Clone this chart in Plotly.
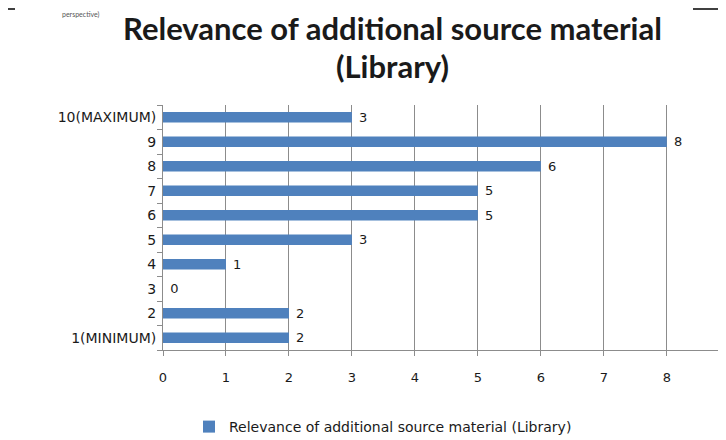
import plotly.graph_objects as go

categories = ["1(MINIMUM)", "2", "3", "4", "5", "6", "7", "8", "9", "10(MAXIMUM)"]
counts = [2, 2, 0, 1, 3, 5, 5, 6, 8, 3]
series_name = "Relevance of additional source material (Library)"
x_ticks = [0, 1, 2, 3, 4, 5, 6, 7, 8, 9]

blue = "#4F81BD"
grid = "#8C8C8C"
txt = "#1A1A1A"
title_font = "Lato"
font = "DejaVu Sans"

# the page body adds an 8px margin, so the figure is drawn 8px smaller
OFF = 8
FW, FH = 726 - OFF, 440 - OFF
L, T, W, H = 163 - OFF, 105 - OFF, 563, 245  # plot area in figure pixels


def px(x):
    return (x - OFF - L) / W


def py(y):
    return (T + H - (y - OFF)) / H


fig = go.Figure()
fig.add_trace(go.Bar(
    y=categories, x=counts, orientation="h", name=series_name,
    marker=dict(color=blue, line=dict(width=0)), width=0.42,
    text=counts, texttemplate=" %{x}", textposition="outside", cliponaxis=False,
    constraintext="none", textfont=dict(family=font, size=13, color=txt),
))

fig.update_layout(
    width=FW, height=FH,
    margin=dict(l=L, r=FW - L - W, t=T, b=FH - T - H, autoexpand=False),
    paper_bgcolor="white", plot_bgcolor="white",
    font=dict(family=font, size=12, color=txt),
    showlegend=True,
    legend=dict(orientation="h", x=px(383), xanchor="center", y=py(427), yanchor="middle",
                font=dict(family=font, size=14, color=txt), itemwidth=30),
)
fig.update_xaxes(range=[0, 8.94], tickvals=x_ticks, showgrid=True, gridcolor=grid, gridwidth=1,
                 showline=True, linecolor=grid, linewidth=1, ticks="outside", ticklen=5,
                 tickcolor=grid, ticklabelstandoff=10, zeroline=False, automargin=False,
                 tickfont=dict(family=font, size=13, color=txt))
fig.update_yaxes(type="category", categoryorder="array", categoryarray=categories,
                 showline=True, linecolor=grid, linewidth=1, ticks="outside", ticklen=5,
                 tickcolor=grid, tickson="boundaries", showgrid=False, ticklabelstandoff=3,
                 automargin=False, tickfont=dict(family=font, size=14, color=txt))

# title
fig.add_annotation(text="<b>Relevance of additional source material</b>", xref="paper", yref="paper",
                   x=px(392), y=py(28), xanchor="center", yanchor="middle", showarrow=False,
                   font=dict(family=title_font, size=31, color=txt))
fig.add_annotation(text="<b>(Library)</b>", xref="paper", yref="paper",
                   x=px(392), y=py(66), xanchor="center", yanchor="middle", showarrow=False,
                   font=dict(family=title_font, size=31, color=txt))

# stray bits of the surrounding document
fig.add_shape(type="line", xref="paper", yref="paper", x0=px(8), x1=px(15),
              y0=py(9), y1=py(9), line=dict(color="black", width=1.5))
fig.add_shape(type="line", xref="paper", yref="paper", x0=px(693), x1=px(726),
              y0=py(9), y1=py(9), line=dict(color="black", width=1.5))
fig.add_annotation(text="perspective)", xref="paper", yref="paper", x=px(60), y=py(8),
                   xanchor="left", yanchor="top", showarrow=False,
                   font=dict(family=title_font, size=7, color="#555555"))

fig.write_html("out.html")
